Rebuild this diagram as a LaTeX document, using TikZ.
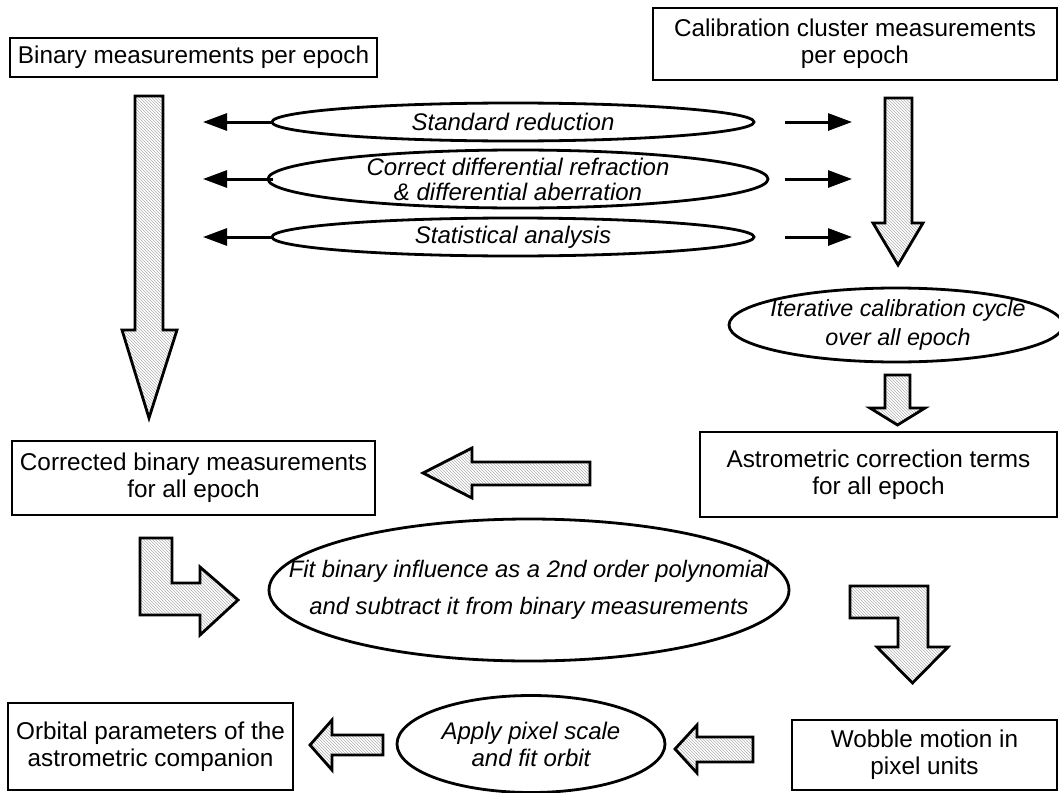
\documentclass[tikz,border=0pt]{standalone}
\usepackage{fontspec}
\setmainfont{Liberation Sans}
\usetikzlibrary{shapes.geometric,arrows.meta,patterns}
\begin{document}
\begin{tikzpicture}[x=1pt,y=-1pt,
 box/.style={draw,line width=2.6pt,rectangle,inner sep=0pt,align=center,font=\fontsize{24.3}{27}\selectfont},
 oval/.style={draw,line width=2.8pt,ellipse,inner sep=0pt},
 ovaltext/.style={inner sep=0pt,align=center,font=\fontsize{24}{27}\selectfont\itshape},
 thinarrow/.style={line width=3pt,-{Triangle[length=24pt,width=17pt]}},
 blockarrow/.style={draw,line width=2.8pt,line join=miter,preaction={fill=white},pattern=north west lines,pattern color=gray!60}]
\useasboundingbox (0,0) rectangle (1059,792);

% boxes
\node[box,minimum width=367pt,minimum height=39pt] (binary) at (193.5,57.5) {Binary measurements per epoch};
\node[box,minimum width=404pt,minimum height=72pt] (calib) at (855,44) {Calibration cluster measurements\\per epoch};
\node[box,minimum width=363pt,minimum height=74pt] (corr) at (193.5,478) {Corrected binary measurements\\for all epoch};
\node[box,minimum width=357pt,minimum height=85pt] (astro) at (878.5,474.5) {Astrometric correction terms\\for all epoch};
\node[box,minimum width=285pt,minimum height=87pt] (orbital) at (150.5,746.5) {Orbital parameters of the\\astrometric companion};
\node[box,minimum width=265pt,minimum height=70pt] (wobble) at (924.5,755) {Wobble motion in\\pixel units};

% ellipses
\node[oval,minimum width=482pt,minimum height=38pt] (std) at (513,122) {};
\node[ovaltext] (stdt) at (std.center) {Standard reduction};
\node[oval,minimum width=500pt,minimum height=58pt] (refr) at (518,179) {};
\node[ovaltext,font=\fontsize{24}{25}\selectfont\itshape] (refrt) at (refr.center) {Correct differential refraction\\\& differential aberration};
\node[oval,minimum width=482pt,minimum height=38pt] (stat) at (513,237) {};
\node[ovaltext] (statt) at (stat.center) {Statistical analysis};
\node[oval,minimum width=334pt,minimum height=74pt] (iter) at (896,325) {};
\node[ovaltext,font=\fontsize{23.3}{29}\selectfont\itshape] (itert) at ([xshift=2pt]iter.center) {Iterative calibration cycle\\over all epoch};
\node[oval,minimum width=520pt,minimum height=142pt] (fit) at (529,590) {};
\node[ovaltext,font=\fontsize{23.8}{37}\selectfont\itshape] (fitt) at (fit.center) {Fit binary influence as a 2nd order polynomial\\and subtract it from binary measurements};
\node[oval,minimum width=268pt,minimum height=97pt] (apply) at (531,744) {};
\node[ovaltext] (applyt) at (apply.center) {Apply pixel scale\\and fit orbit};

% thin arrows
\foreach \y/\n in {122/a,179/b,237/c}{
  \coordinate (L\n s) at (273,\y);
  \coordinate (L\n e) at (203,\y);
  \coordinate (R\n s) at (785,\y);
  \coordinate (R\n e) at (852,\y);
  \draw[thinarrow] (L\n s) -- (L\n e);
  \draw[thinarrow] (R\n s) -- (R\n e);
}

% block arrows
\draw[blockarrow] (135,96) -- (163,96) -- (163,330) -- (177,330) -- (149,418) -- (122,330) -- (135,330) -- cycle;
\draw[blockarrow] (885,98) -- (912,98) -- (912,223) -- (923,223) -- (898,265) -- (873,223) -- (885,223) -- cycle;
\draw[blockarrow] (885,375) -- (910,375) -- (910,408) -- (925,408) -- (897.5,425) -- (870,408) -- (885,408) -- cycle;
\draw[blockarrow] (590,462) -- (472,462) -- (472,448) -- (423,473) -- (472,498) -- (472,485) -- (590,485) -- cycle;
\draw[blockarrow] (140,538) -- (172,538) -- (172,583) -- (200,583) -- (200,567) -- (238,600) -- (200,635) -- (200,615) -- (140,615) -- cycle;
\draw[blockarrow] (850,586) -- (928,586) -- (928,647) -- (948,647) -- (912.5,683) -- (877,647) -- (898,647) -- (898,618) -- (850,618) -- cycle;
\draw[blockarrow] (753,737) -- (697,737) -- (697,725) -- (675,749) -- (697,773) -- (697,762) -- (753,762) -- cycle;
\draw[blockarrow] (383,735) -- (332,735) -- (332,720) -- (310,745) -- (332,770) -- (332,755) -- (383,755) -- cycle;
\end{tikzpicture}
\end{document}
